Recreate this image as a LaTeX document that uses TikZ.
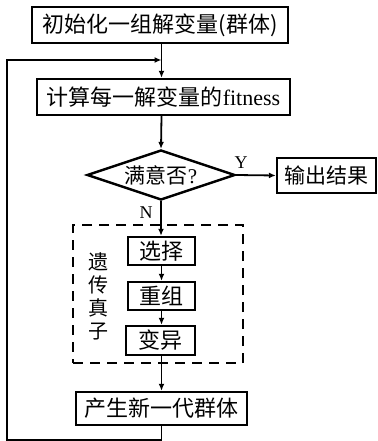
\documentclass[tikz,border=0pt]{standalone}
\usepackage{fontspec}
\setmainfont{Liberation Serif}
\newfontfamily\cjk{Noto Sans CJK SC}
\usetikzlibrary{shapes.geometric,arrows.meta}
\tikzset{
  box/.style={draw, line width=2.4pt, inner sep=0pt, font=\cjk\fontsize{22}{22}\selectfont},
  conn/.style={line width=1.8pt},
  arr/.style={conn,-{Latex[length=7pt,width=6pt]}},
  lab/.style={font=\fontsize{18}{18}\selectfont, inner sep=0pt},
}
\begin{document}
\begin{tikzpicture}[x=1pt,y=-1pt]
\useasboundingbox (0,0) rectangle (377,441);
\node[box,minimum width=256pt,minimum height=36pt] (init) at (160,25) {初始化一组解变量(群体)};
\node[box,minimum width=253pt,minimum height=36pt] (eval) at (163.5,97) {计算每一解变量的{\rmfamily fitness}};
\node[draw,line width=2.4pt,shape=diamond,aspect=3,minimum width=148pt,minimum height=50pt,inner sep=0pt,font=\cjk\fontsize{21}{21}\selectfont] (dec) at (161,175) {满意否{\rmfamily ?}};
\node[box,minimum width=99pt,minimum height=35pt,font=\cjk\fontsize{21}{21}\selectfont] (out) at (326.5,175.5) {输出结果};
\node[draw,dash pattern=on 10pt off 7pt,line width=1.8pt,minimum width=170pt,minimum height=138pt,inner sep=0pt] (ga) at (158,294) {};
\node[box,minimum width=67pt,minimum height=28pt] (sel) at (161.5,251) {选择};
\node[box,minimum width=67pt,minimum height=28pt] (rec) at (161.5,296) {重组};
\node[box,minimum width=69pt,minimum height=29pt] (mut) at (160.5,340.5) {变异};
\node[box,minimum width=171pt,minimum height=33pt] (gen) at (161.5,408.5) {产生新一代群体};
\node[font=\cjk\fontsize{20}{23}\selectfont,align=center,inner sep=0pt] (lbl) at (98,296) {遗\\传\\真\\子};
\node[lab] (ylab) at (241,163) {Y};
\node[lab] (nlab) at (146,213) {N};
\coordinate (j) at (161.5,60);
\coordinate (c1) at (7,440);
\coordinate (c2) at (7,60);
\draw[conn] (init.south -| j) -- (j);
\draw[arr] (j) -- (eval.north -| j);
\draw[arr] (eval.south -| j) -- (dec.north);
\draw[arr] (dec.east) -- (out.west);
\draw[arr] (dec.south) -- (sel.north -| dec.south);
\draw[arr] (sel.south -| j) -- (rec.north -| j);
\draw[arr] (rec.south -| j) -- (mut.north -| j);
\draw[arr] (mut.south -| j) -- (gen.north -| j);
\draw[arr] (gen.south -| j) |- (c1) -- (c2) -- (j);
\end{tikzpicture}
\end{document}
